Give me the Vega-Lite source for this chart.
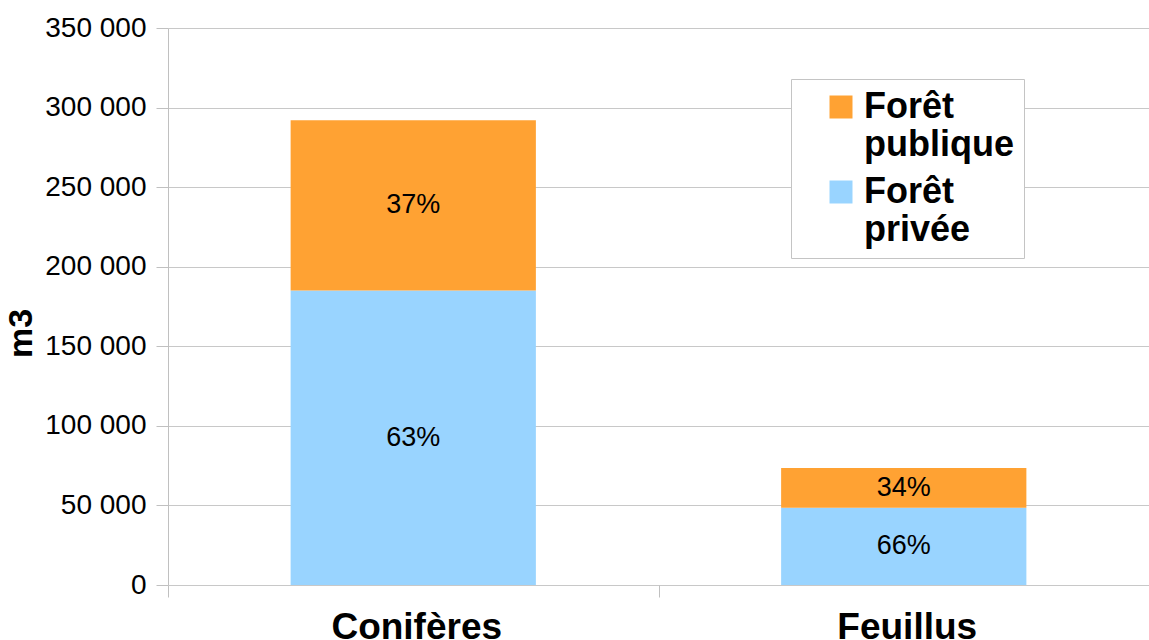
{
  "$schema": "https://vega.github.io/schema/vega-lite/v6.json",
  "width": 981,
  "height": 557,
  "autosize": {"type": "none"},
  "padding": {"left": 168, "top": 28, "right": 0, "bottom": 55},
  "background": "white",
  "data": {
    "values": [
      {"type": "Conifères", "owner": "Forêt privée", "volume": 185000, "pct": "63%"},
      {"type": "Conifères", "owner": "Forêt publique", "volume": 107000, "pct": "37%"},
      {"type": "Feuillus", "owner": "Forêt privée", "volume": 48500, "pct": "66%"},
      {"type": "Feuillus", "owner": "Forêt publique", "volume": 25000, "pct": "34%"}
    ]
  },
  "encoding": {
    "x": {
      "field": "type",
      "type": "nominal",
      "sort": ["Conifères", "Feuillus"],
      "scale": {"paddingInner": 0, "paddingOuter": 0},
      "axis": {
        "title": null,
        "labelAngle": 0,
        "labelFontSize": 37,
        "labelFontWeight": "bold",
        "labelColor": "#000000",
        "labelPadding": 12,
        "labelOffset": 3,
        "tickBand": "extent",
        "tickSize": 12,
        "tickColor": "#c0c0c0",
        "domain": false,
        "grid": false
      }
    },
    "y": {
      "field": "volume",
      "type": "quantitative",
      "stack": "zero",
      "scale": {"domain": [0, 350000], "nice": false},
      "axis": {
        "title": "m3",
        "titleFontSize": 34,
        "titleFontWeight": "bold",
        "titleColor": "#000000",
        "titleAngle": -90,
        "titleX": -130,
        "titleY": 305,
        "titleAlign": "center",
        "titleBaseline": "bottom",
        "values": [0, 50000, 100000, 150000, 200000, 250000, 300000, 350000],
        "labelExpr": "replace(format(datum.value, ','), ',', ' ')",
        "labelFontSize": 28,
        "labelColor": "#000000",
        "labelPadding": 10,
        "tickSize": 12,
        "tickColor": "#c0c0c0",
        "domainColor": "#c0c0c0",
        "gridColor": "#c8c8c8",
        "grid": true
      }
    }
  },
  "layer": [
    {
      "mark": {"type": "bar", "width": {"band": 0.5}},
      "encoding": {
        "color": {
          "field": "owner",
          "type": "nominal",
          "scale": {
            "domain": ["Forêt publique", "Forêt privée"],
            "range": ["#FFA233", "#99D4FF"]
          },
          "legend": {
            "title": null,
            "orient": "none",
            "legendX": 623,
            "legendY": 51,
            "padding": 10,
            "strokeColor": "#c4c4c4",
            "fillColor": "#ffffff",
            "symbolType": "square",
            "symbolSize": 529,
            "symbolOffset": 22,
            "symbolStrokeWidth": 0,
            "labelFontSize": 36,
            "labelFontWeight": "bold",
            "labelColor": "#000000",
            "labelOffset": 5,
            "labelLimit": 0,
            "rowPadding": 11,
            "labelExpr": "datum.label == 'Forêt publique' ? ['Forêt', 'publique'] : ['Forêt', 'privée']"
          }
        },
        "order": {"field": "owner", "sort": "ascending"}
      }
    },
    {
      "mark": {"type": "text", "fontSize": 27, "color": "#000000", "baseline": "middle"},
      "encoding": {
        "y": {"field": "volume", "type": "quantitative", "stack": "zero", "bandPosition": 0.5},
        "detail": {"field": "owner"},
        "order": {"field": "owner", "sort": "ascending"},
        "text": {"field": "pct"}
      }
    }
  ],
  "config": {
    "font": "Liberation Sans",
    "view": {"stroke": null}
  }
}
